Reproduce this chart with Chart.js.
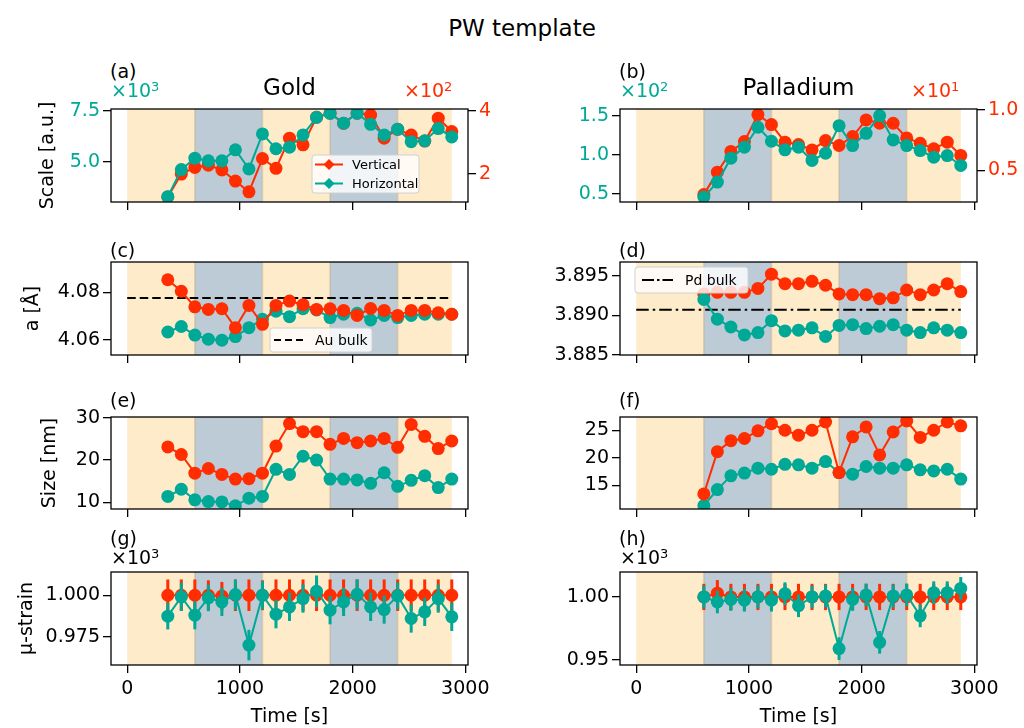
<!DOCTYPE html>
<html>
<head>
<meta charset="utf-8">
<title>PW template</title>
<script src="https://cdn.jsdelivr.net/npm/chart.js@4.4.1/dist/chart.umd.min.js"></script>
<style>
  html, body { margin: 0; padding: 0; background: #fff; }
  #fig { position: relative; width: 1024px; height: 728px; overflow: hidden; font-family: 'DejaVu Sans', sans-serif; }
  #fig canvas { position: absolute; }
  .lbl { position: absolute; white-space: nowrap; line-height: 1; z-index: 5; }
  .lbl .sup { font-size: 13px; vertical-align: 6px; line-height: 1; }
</style>
</head>
<body>
<div id="fig"></div>
<script>
// Time stamps of the scans (s)
const TIME_AU = [360, 480, 600, 720, 840, 960, 1080, 1200, 1320, 1440, 1560, 1680, 1800, 1920, 2040, 2160, 2280, 2400, 2520, 2640, 2760, 2880];
const TIME_PD = [600, 720, 840, 960, 1080, 1200, 1320, 1440, 1560, 1680, 1800, 1920, 2040, 2160, 2280, 2400, 2520, 2640, 2760, 2880];
const X_TICKS = [0, 1000, 2000, 3000];

// gas switching periods
const BAND_START = [0, 600, 1200, 1800, 2400];
const BAND_END = [600, 1200, 1800, 2400, 2880];
const BAND_COLOR = ['#fdebc9', '#bdcbd6', '#fdebc9', '#bdcbd6', '#fdebc9'];
const BULK_X = [0, 2880];

// (a) gold scale: horizontal x10^3, vertical x10^2
const AU_SCALE_H = [3.30, 4.63, 5.19, 5.06, 5.06, 5.60, 4.66, 6.38, 5.65, 5.73, 6.33, 7.19, 7.39, 6.90, 7.39, 6.85, 6.33, 6.61, 6.00, 6.04, 6.64, 6.23];
const AU_SCALE_V = [1.28, 2.00, 2.21, 2.28, 2.13, 1.78, 1.44, 2.49, 2.18, 3.13, 2.92, 3.79, 3.92, 3.60, 3.92, 3.86, 3.13, 3.41, 3.23, 3.04, 3.76, 3.34];
// (b) palladium scale: horizontal x10^2, vertical x10^1
const PD_SCALE_H = [0.457, 0.649, 0.955, 1.096, 1.351, 1.172, 1.062, 1.096, 0.926, 1.019, 1.372, 1.117, 1.274, 1.500, 1.189, 1.117, 1.053, 0.968, 0.989, 0.862];
const PD_SCALE_V = [0.300, 0.486, 0.657, 0.739, 0.962, 0.879, 0.734, 0.714, 0.670, 0.747, 0.706, 0.780, 0.918, 0.890, 0.890, 0.769, 0.725, 0.679, 0.734, 0.624];

// (c) gold lattice parameter (Å)
const AU_A_V = [4.0852, 4.0804, 4.0739, 4.0728, 4.0731, 4.0652, 4.0745, 4.0666, 4.0745, 4.0763, 4.0748, 4.0728, 4.0731, 4.0724, 4.0703, 4.0732, 4.0724, 4.0703, 4.0724, 4.0724, 4.0714, 4.0708];
const AU_A_H = [4.0634, 4.0657, 4.0621, 4.0604, 4.0600, 4.0615, 4.0652, 4.0687, 4.0721, 4.0698, 4.0731, 4.0726, 4.0694, 4.0708, 4.0712, 4.0684, 4.0703, 4.0694, 4.0703, 4.0708, 4.0708, 4.0708];
const AU_BULK = 4.0776;
// (d) palladium lattice parameter (Å)
const PD_A_V = [3.8927, 3.8929, 3.8929, 3.8929, 3.8934, 3.8952, 3.8940, 3.8940, 3.8943, 3.8938, 3.8927, 3.8926, 3.8926, 3.8921, 3.8922, 3.8932, 3.8926, 3.8932, 3.8940, 3.8930];
const PD_A_H = [3.8920, 3.8895, 3.8885, 3.8875, 3.8878, 3.8893, 3.8880, 3.8881, 3.8884, 3.8873, 3.8887, 3.8888, 3.8883, 3.8886, 3.8888, 3.8881, 3.8878, 3.8884, 3.8881, 3.8878];
const PD_BULK = 3.8907;

// (e), (f) crystallite size (nm)
const AU_SIZE_V = [23.1, 21.3, 16.9, 18.0, 16.6, 15.5, 15.6, 16.9, 23.3, 28.6, 26.7, 26.7, 23.7, 25.1, 24.1, 24.5, 25.1, 23.0, 28.4, 25.6, 22.7, 24.5];
const AU_SIZE_H = [11.4, 13.1, 10.6, 10.2, 10.1, 9.2, 11.0, 11.4, 17.8, 16.6, 20.9, 20.0, 15.5, 15.5, 15.3, 14.5, 17.0, 13.8, 15.2, 16.3, 13.5, 15.5];
const PD_SIZE_V = [13.4, 21.1, 23.1, 23.5, 24.9, 26.2, 25.0, 24.1, 25.0, 26.5, 17.3, 23.8, 25.6, 20.5, 24.7, 26.7, 23.7, 25.0, 26.5, 25.8];
const PD_SIZE_H = [11.3, 14.2, 16.7, 17.2, 18.1, 17.9, 18.8, 18.7, 18.1, 19.3, 17.3, 17.0, 18.4, 18.1, 18.1, 18.7, 17.8, 17.6, 17.9, 16.1];

// (g), (h) micro-strain x10^3 with error bars
const AU_STRAIN_V = [1.000, 1.000, 1.000, 1.000, 0.9995, 1.000, 1.000, 1.000, 1.000, 1.000, 1.000, 1.000, 1.000, 1.000, 1.000, 1.000, 1.000, 1.000, 1.000, 1.000, 1.000, 1.000];
const AU_STRAIN_V_ERR = [0.0095, 0.0095, 0.0095, 0.0090, 0.0085, 0.0095, 0.0095, 0.0090, 0.0095, 0.0095, 0.0095, 0.0095, 0.0095, 0.0095, 0.0095, 0.0095, 0.0095, 0.0095, 0.0095, 0.0095, 0.0095, 0.0095];
const AU_STRAIN_H = [0.9874, 0.9990, 0.9880, 0.9984, 0.9960, 1.0004, 0.9700, 1.0000, 0.9886, 0.9930, 0.9980, 1.0024, 0.9910, 0.9960, 1.0006, 0.9930, 0.9914, 0.9996, 0.9860, 0.9900, 0.9980, 0.9870];
const AU_STRAIN_H_ERR = [0.0080, 0.0085, 0.0085, 0.0080, 0.0085, 0.0090, 0.0092, 0.0085, 0.0085, 0.0085, 0.0085, 0.0095, 0.0085, 0.0085, 0.0090, 0.0085, 0.0085, 0.0080, 0.0085, 0.0085, 0.0085, 0.0085];
const PD_STRAIN_V = [1.000, 1.003, 1.000, 1.000, 1.000, 1.000, 1.000, 1.000, 1.000, 1.000, 1.000, 1.000, 1.000, 1.000, 1.000, 1.000, 1.000, 1.000, 1.000, 1.000];
const PD_STRAIN_V_ERR = [0.0104, 0.0104, 0.0104, 0.0104, 0.0104, 0.0104, 0.0104, 0.0104, 0.0104, 0.0104, 0.0104, 0.0104, 0.0104, 0.0104, 0.0104, 0.0104, 0.0104, 0.0104, 0.0104, 0.0104];
const PD_STRAIN_H = [1.000, 0.996, 0.998, 0.9974, 1.000, 0.9974, 1.0026, 0.993, 1.000, 1.0008, 0.959, 0.998, 1.0016, 0.964, 1.0008, 1.0016, 0.985, 1.0034, 1.0034, 1.0068];
const PD_STRAIN_H_ERR = [0.009, 0.009, 0.009, 0.009, 0.009, 0.009, 0.009, 0.009, 0.009, 0.009, 0.009, 0.009, 0.009, 0.009, 0.009, 0.009, 0.009, 0.009, 0.009, 0.009];

const RED = '#ff2d00';
const TEAL = '#00a896';

// figure layout (page pixels)
const FIG_H = 728;
const PAD = 24;
const X_MIN = -144, X_MAX = 3024;
const COLS = [
  { x0: 0, w: 512, left: 111, right: 468 },
  { x0: 512, w: 512, left: 620, right: 977 }
];
const ROWS = [
  { top: 109, bottom: 202 },
  { top: 262, bottom: 355 },
  { top: 417, bottom: 509 },
  { top: 572, bottom: 665 }
];

// titles, panel letters and axis offset texts
const LABELS = [
  { text: 'PW template', x: 522, y: 36, size: 23, align: 'center' },
  { text: '(a)', x: 110, y: 78, size: 19 },
  { text: 'Gold', x: 289.5, y: 95, size: 23, align: 'center' },
  { text: '×10', sup: '3', x: 111, y: 96, size: 19, color: TEAL },
  { text: '×10', sup: '2', x: 404, y: 96, size: 19, color: RED },
  { text: '(b)', x: 619, y: 78, size: 19 },
  { text: 'Palladium', x: 798.5, y: 95, size: 23, align: 'center' },
  { text: '×10', sup: '2', x: 620, y: 96, size: 19, color: TEAL },
  { text: '×10', sup: '1', x: 911, y: 96, size: 19, color: RED },
  { text: '(c)', x: 110, y: 257, size: 19 },
  { text: '(d)', x: 619, y: 257, size: 19 },
  { text: '(e)', x: 110, y: 407, size: 19 },
  { text: '(f)', x: 619, y: 407, size: 19 },
  { text: '(g)', x: 110, y: 545, size: 19 },
  { text: '×10', sup: '3', x: 111, y: 563, size: 19 },
  { text: '(h)', x: 619, y: 545, size: 19 },
  { text: '×10', sup: '3', x: 620, y: 563, size: 19 }
];

const panels = [
  { col: 0, row: 0, yTitle: { text: 'Scale [a.u.]', pad: 36.6 },
    y: { min: 3.04, max: 7.6, ticks: [5.0, 7.5], dec: 1, color: TEAL },
    y2: { min: 1.12, max: 4.05, ticks: [2, 4], dec: 0, color: RED },
    series: [
      { x: TIME_AU, y: AU_SCALE_V, color: RED, axis: 'y2', order: 2 },
      { x: TIME_AU, y: AU_SCALE_H, color: TEAL, order: 1 }
    ],
    legend: { x: 312, y: 155, w: 107, h: 38, lx0: 3, lx1: 31, tx: 40, size: 13,
      items: [{ label: 'Vertical', color: RED, marker: true }, { label: 'Horizontal', color: TEAL, marker: true }] }
  },
  { col: 1, row: 0,
    y: { min: 0.394, max: 1.585, ticks: [0.5, 1.0, 1.5], dec: 1, color: TEAL },
    y2: { min: 0.239, max: 1.008, ticks: [0.5, 1.0], dec: 1, color: RED },
    series: [
      { x: TIME_PD, y: PD_SCALE_V, color: RED, axis: 'y2', order: 2 },
      { x: TIME_PD, y: PD_SCALE_H, color: TEAL, order: 1 }
    ]
  },
  { col: 0, row: 1, yTitle: { text: 'a [Å]', pad: 21.6 },
    y: { min: 4.0538, max: 4.0926, ticks: [4.06, 4.08], dec: 2 },
    series: [
      { x: TIME_AU, y: AU_A_V, color: RED, order: 1 },
      { x: TIME_AU, y: AU_A_H, color: TEAL, order: 2 }
    ],
    bulk: { value: AU_BULK, dash: [8.5, 4] },
    legend: { x: 270, y: 328, w: 102, h: 24, lx0: 4, lx1: 33, tx: 45, size: 14,
      items: [{ label: 'Au bulk', color: '#000', dash: [7, 4] }] }
  },
  { col: 1, row: 1,
    y: { min: 3.88495, max: 3.89675, ticks: [3.885, 3.890, 3.895], dec: 3 },
    series: [
      { x: TIME_PD, y: PD_A_V, color: RED, order: 2 },
      { x: TIME_PD, y: PD_A_H, color: TEAL, order: 1 }
    ],
    bulk: { value: PD_BULK, dash: [12.5, 4, 2.5, 4] },
    legend: { x: 635, y: 267, w: 113, h: 26, lx0: 7, lx1: 38, tx: 50, size: 14,
      items: [{ label: 'Pd bulk', color: '#000', dash: [12, 3, 2.5, 3] }] }
  },
  { col: 0, row: 2, yTitle: { text: 'Size [nm]', pad: 38.6 },
    y: { min: 8.44, max: 30.16, ticks: [10, 20, 30], dec: 0 },
    series: [
      { x: TIME_AU, y: AU_SIZE_V, color: RED, order: 1 },
      { x: TIME_AU, y: AU_SIZE_H, color: TEAL, order: 2 }
    ]
  },
  { col: 1, row: 2,
    y: { min: 10.66, max: 27.41, ticks: [15, 20, 25], dec: 0 },
    series: [
      { x: TIME_PD, y: PD_SIZE_V, color: RED, order: 1 },
      { x: TIME_PD, y: PD_SIZE_H, color: TEAL, order: 2 }
    ]
  },
  { col: 0, row: 3, yTitle: { text: 'μ-strain', pad: 15.6 },
    y: { min: 0.958, max: 1.014, ticks: [0.975, 1.000], dec: 3 },
    series: [
      { x: TIME_AU, y: AU_STRAIN_V, err: AU_STRAIN_V_ERR, color: RED, order: 2 },
      { x: TIME_AU, y: AU_STRAIN_H, err: AU_STRAIN_H_ERR, color: TEAL, order: 1 }
    ]
  },
  { col: 1, row: 3,
    y: { min: 0.946, max: 1.0198, ticks: [0.95, 1.00], dec: 2 },
    series: [
      { x: TIME_PD, y: PD_STRAIN_V, err: PD_STRAIN_V_ERR, color: RED, order: 2 },
      { x: TIME_PD, y: PD_STRAIN_H, err: PD_STRAIN_H_ERR, color: TEAL, order: 1 }
    ]
  }
];

Chart.defaults.font.family = "'DejaVu Sans', sans-serif";
Chart.defaults.font.size = 19;
Chart.defaults.color = '#000';

const fig = document.getElementById('fig');

function tickAxis(cfg, pos, width, title) {
  return {
    type: 'linear', position: pos, min: cfg.min, max: cfg.max,
    afterBuildTicks: s => { s.ticks = cfg.ticks.map(v => ({ value: v })); },
    afterFit: s => { s.width = width; },
    ticks: { color: cfg.color || '#000', padding: 3, autoSkip: false, callback: v => Number(v).toFixed(cfg.dec) },
    grid: { drawOnChartArea: false, drawTicks: true, tickLength: 8, color: '#000', lineWidth: 1.3 },
    border: { display: false },
    title: title
      ? { display: true, text: title.text, padding: { top: title.pad, bottom: 0 } }
      : { display: false }
  };
}

function drawPanel(p) {
  const col = COLS[p.col], row = ROWS[p.row];
  const bottomRow = p.row === ROWS.length - 1;
  const xh = bottomRow ? FIG_H - row.bottom : PAD;
  const offX = col.x0, offY = row.top - PAD;
  const leftW = col.left - col.x0;
  const rightW = col.x0 + col.w - col.right;

  const cv = document.createElement('canvas');
  cv.width = col.w;
  cv.height = PAD + (row.bottom - row.top) + xh;
  cv.style.left = offX + 'px';
  cv.style.top = offY + 'px';
  fig.appendChild(cv);

  const datasets = p.series.map(s => ({
    data: s.x.map((t, i) => ({ x: t, y: s.y[i] })),
    yAxisID: s.axis || 'y',
    order: s.order,
    borderColor: s.color,
    backgroundColor: s.color,
    borderWidth: 2,
    pointRadius: 6.5,
    pointHoverRadius: 6.5,
    pointBorderWidth: 0,
    clip: 0,
    err: s.err
  }));
  if (p.bulk) {
    datasets.push({
      data: BULK_X.map(t => ({ x: t, y: p.bulk.value })),
      yAxisID: 'y', order: 10,
      borderColor: '#000', borderWidth: 2, borderDash: p.bulk.dash,
      pointRadius: 0, clip: 0
    });
  }

  const scales = {
    x: {
      type: 'linear', min: X_MIN, max: X_MAX,
      afterBuildTicks: s => { s.ticks = X_TICKS.map(v => ({ value: v })); },
      afterFit: s => { s.height = xh; },
      ticks: { color: bottomRow ? '#000' : 'rgba(0,0,0,0)', padding: 5, maxRotation: 0, autoSkip: false, callback: v => String(v) },
      grid: { drawOnChartArea: false, drawTicks: true, tickLength: 8, color: '#000', lineWidth: 1.3 },
      border: { display: false },
      title: bottomRow
        ? { display: true, text: 'Time [s]', padding: { top: 0, bottom: 0 } }
        : { display: false }
    },
    y: tickAxis(p.y, 'left', leftW, p.yTitle)
  };
  if (p.y2) scales.y2 = tickAxis(p.y2, 'right', rightW, null);

  const decor = {
    id: 'decor',
    beforeDatasetsDraw(chart) {
      const { ctx, chartArea: a, scales: { x } } = chart;
      ctx.save();
      BAND_START.forEach((t0, i) => {
        const x0 = x.getPixelForValue(t0), x1 = x.getPixelForValue(BAND_END[i]);
        ctx.fillStyle = BAND_COLOR[i];
        ctx.fillRect(x0, a.top, x1 - x0, a.bottom - a.top);
      });
      ctx.strokeStyle = 'rgba(190,165,120,0.45)';
      ctx.lineWidth = 1.5;
      BAND_START.slice(1).forEach(t => {
        const px = x.getPixelForValue(t);
        ctx.beginPath(); ctx.moveTo(px, a.top); ctx.lineTo(px, a.bottom); ctx.stroke();
      });
      ctx.restore();
    },
    beforeDatasetDraw(chart, args) {
      const ds = chart.data.datasets[args.index];
      if (!ds.err) return;
      const { ctx, chartArea: a, scales } = chart;
      const x = scales.x, ys = scales[ds.yAxisID];
      ctx.save();
      ctx.beginPath();
      ctx.rect(a.left, a.top, a.right - a.left, a.bottom - a.top);
      ctx.clip();
      ctx.strokeStyle = ds.borderColor;
      ctx.lineWidth = 3;
      ds.data.forEach((pt, i) => {
        const px = x.getPixelForValue(pt.x);
        ctx.beginPath();
        ctx.moveTo(px, ys.getPixelForValue(pt.y - ds.err[i]));
        ctx.lineTo(px, ys.getPixelForValue(pt.y + ds.err[i]));
        ctx.stroke();
      });
      ctx.restore();
    },
    afterDatasetsDraw(chart) {
      const { ctx, chartArea: a } = chart;
      ctx.save();
      ctx.strokeStyle = '#000';
      ctx.lineWidth = 1.3;
      ctx.strokeRect(a.left, a.top, a.right - a.left, a.bottom - a.top);
      const lg = p.legend;
      if (lg) {
        const bx = lg.x - offX, by = lg.y - offY;
        ctx.beginPath();
        ctx.roundRect(bx, by, lg.w, lg.h, 3);
        ctx.fillStyle = 'rgba(255,255,255,0.8)';
        ctx.fill();
        ctx.strokeStyle = '#d0d0d0';
        ctx.lineWidth = 1;
        ctx.stroke();
        const n = lg.items.length;
        lg.items.forEach((it, i) => {
          const ry = by + lg.h * (2 * i + 1) / (2 * n);
          ctx.strokeStyle = it.color;
          ctx.lineWidth = 2;
          ctx.setLineDash(it.dash || []);
          ctx.beginPath();
          ctx.moveTo(bx + lg.lx0, ry);
          ctx.lineTo(bx + lg.lx1, ry);
          ctx.stroke();
          ctx.setLineDash([]);
          if (it.marker) {
            const mx = bx + (lg.lx0 + lg.lx1) / 2, r = 5.5;
            ctx.fillStyle = it.color;
            ctx.beginPath();
            ctx.moveTo(mx, ry - r); ctx.lineTo(mx + r, ry); ctx.lineTo(mx, ry + r); ctx.lineTo(mx - r, ry);
            ctx.closePath();
            ctx.fill();
          }
          ctx.fillStyle = '#000';
          ctx.font = lg.size + "px 'DejaVu Sans'";
          ctx.textBaseline = 'middle';
          ctx.fillText(it.label, bx + lg.tx, ry + 1);
        });
      }
      ctx.restore();
    }
  };

  new Chart(cv, {
    type: 'line',
    data: { datasets },
    options: {
      responsive: false,
      animation: false,
      devicePixelRatio: 1,
      events: [],
      layout: { padding: { top: PAD, left: 0, bottom: 0, right: p.y2 ? 0 : rightW } },
      scales,
      plugins: { legend: { display: false }, tooltip: { enabled: false } }
    },
    plugins: [decor]
  });
}

panels.forEach(drawPanel);

LABELS.forEach(l => {
  const d = document.createElement('div');
  d.className = 'lbl';
  d.appendChild(document.createTextNode(l.text));
  if (l.sup) {
    const s = document.createElement('span');
    s.className = 'sup';
    s.textContent = l.sup;
    d.appendChild(s);
  }
  d.style.fontSize = l.size + 'px';
  d.style.color = l.color || '#000';
  d.style.left = l.x + 'px';
  d.style.top = (l.y - 0.846 * l.size) + 'px';
  if (l.align === 'center') d.style.transform = 'translateX(-50%)';
  fig.appendChild(d);
});
</script>
</body>
</html>
